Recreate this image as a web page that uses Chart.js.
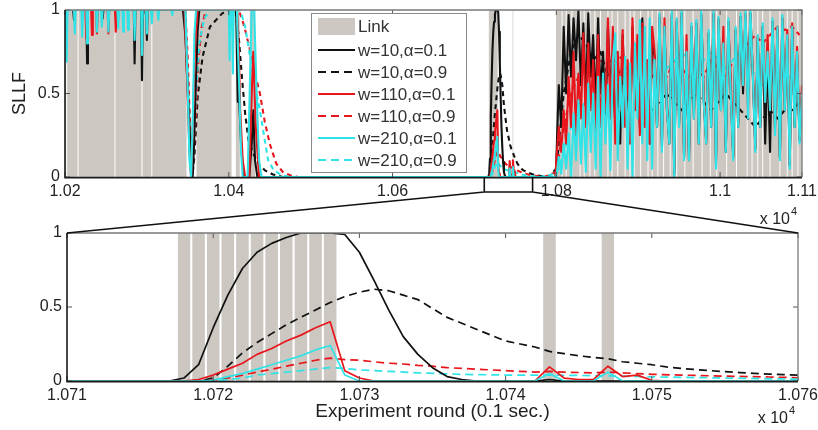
<!DOCTYPE html>
<html>
<head>
<meta charset="utf-8">
<script src="https://cdn.jsdelivr.net/npm/chart.js@4.4.0/dist/chart.umd.min.js"></script>
<style>
html, body { margin: 0; padding: 0; background: #fff; }
#wrap { position: relative; width: 818px; height: 430px; overflow: hidden; }
canvas { position: absolute; left: 0; }
#topChart { top: 0; }
#bottomChart { top: 200px; }
#overlay { top: 0; pointer-events: none; }
</style>
</head>
<body>
<div id="wrap">
  <canvas id="topChart" width="818" height="230"></canvas>
  <canvas id="bottomChart" width="818" height="230"></canvas>
  <canvas id="overlay" width="818" height="430"></canvas>
</div>
<script>
// ---- axis ticks ----
const topTickRounds = [10200, 10400, 10600, 10800, 11000, 11100];
const topTickLabels = ['1.02', '1.04', '1.06', '1.08', '1.1', '1.11'];
const bottomTickRounds = [10710, 10720, 10730, 10740, 10750, 10760];
const bottomTickLabels = ['1.071', '1.072', '1.073', '1.074', '1.075', '1.076'];
const yTicks = [0, 0.5, 1];
const yTickLabels = ['0', '0.5', '1'];
const zoomBoxRounds = [10712, 10771];

// ---- link on/off (rounds where the link is up) ----
const linkRuns = [[10200, 10201], [10203, 10215], [10217, 10260], [10262, 10293], [10295, 10305],
  [10307, 10348], [10361, 10403], [10409, 10413], [10426, 10432], [10718, 10728], [10743, 10743], [10747, 10747]];
const noisyStart = 10800;
const noisyEnd = 11100;
const noisyLinkGaps = [10807, 10812, 10819, 10829, 10834, 10841, 10847, 10854, 10863, 10868, 10875, 10884,
  10890, 10895, 10903, 10912, 10917, 10924, 10931, 10939, 10947, 10957, 10967, 10978, 10988, 10996,
  11008, 11020, 11033, 11039, 11046, 11052, 11061, 11073, 11082, 11088, 11095];

// ---- SLLF series, [round, value] up to 10800 ----
const w10a01 = [[10200,1],[10210,1],[10211,0.94],[10212,1],[10226,1],[10227,0.68],[10228,1],[10245,1],[10246,0.95],[10247,1],
  [10284,1],[10285,0.68],[10286,1],[10293,1],[10294,0.58],[10295,1],[10299,1],[10300,0.82],[10301,1],[10344,1],[10347,0.85],
  [10350,0.5],[10353,0.2],[10356,0],[10358,0.25],[10360,0.6],[10362,0.88],[10364,1],[10409,1],[10410,0.72],[10411,0.45],
  [10412,0.6],[10413,0.42],[10415,0.2],[10418,0],[10425,0],[10428,0.2],[10430,0.4],[10432,0.1],[10435,0],[10717,0],
  [10718,0.02],[10719,0.11],[10720,0.36],[10721,0.58],[10722,0.76],[10723,0.87],[10724,0.93],[10725,0.97],[10726,1],
  [10727,1],[10728,1],[10729,0.99],[10730,0.87],[10731,0.68],[10732,0.48],[10733,0.3],[10734,0.18],[10735,0.09],
  [10736,0.03],[10737,0.01],[10738,0],[10742,0],[10743,0.01],[10744,0],[10799,0]];
const w10a09 = [[10200,1],[10226,1],[10227,0.9],[10228,1],[10293,1],[10294,0.88],[10296,1],[10346,1],[10350,0.6],[10353,0.25],
  [10356,0.03],[10358,0.12],[10362,0.48],[10368,0.72],[10377,0.9],[10392,0.98],[10404,1],[10408,1],[10412,0.85],[10416,0.6],
  [10420,0.38],[10424,0.22],[10430,0.14],[10436,0.08],[10444,0.04],[10454,0.015],[10466,0],[10719,0],[10720,0.02],
  [10721,0.1],[10722,0.19],[10723,0.26],[10724,0.32],[10725,0.38],[10726,0.43],[10727,0.48],[10728,0.53],[10729,0.57],
  [10730,0.6],[10731,0.62],[10732,0.61],[10733,0.58],[10734,0.55],[10735,0.49],[10736,0.43],[10737,0.39],[10738,0.35],
  [10739,0.31],[10740,0.27],[10741,0.25],[10742,0.23],[10743,0.2],[10744,0.185],[10745,0.17],[10746,0.16],[10747,0.15],
  [10748,0.13],[10749,0.12],[10750,0.11],[10751,0.095],[10752,0.085],[10753,0.077],[10754,0.07],[10755,0.063],
  [10756,0.057],[10757,0.052],[10758,0.047],[10759,0.043],[10760,0.04],[10766,0.025],[10775,0.01],[10790,0]];
const w110a01 = [[10200,1],[10225,1],[10226,0.83],[10227,1],[10232,1],[10233,0.85],[10234,1],[10238,1],[10239,0.86],[10240,1],
  [10252,1],[10253,0.86],[10254,1],[10261,1],[10262,0.87],[10263,1],[10346,1],[10349,0.6],[10352,0.15],[10354,0],
  [10356,0.3],[10359,0.8],[10362,1],[10410,1],[10412,0.8],[10414,0.4],[10417,0.1],[10420,0],[10425,0],[10428,0.5],
  [10430,0.75],[10433,0.3],[10437,0],[10718,0],[10719,0.01],[10720,0.04],[10721,0.08],[10722,0.12],[10723,0.18],
  [10724,0.22],[10725,0.27],[10726,0.31],[10727,0.36],[10728,0.4],[10729,0.07],[10730,0.02],[10731,0],[10742,0],
  [10743,0.095],[10744,0.02],[10745,0.01],[10746,0.01],[10747,0.1],[10748,0.03],[10749,0.04],[10750,0.005],[10751,0],[10799,0]];
const w110a09 = [[10200,1],[10226,1],[10227,0.95],[10228,1],[10347,1],[10350,0.7],[10353,0.25],[10356,0.06],[10359,0.3],
  [10363,0.7],[10367,0.9],[10372,1],[10412,1],[10416,0.95],[10420,0.88],[10426,0.76],[10432,0.62],[10438,0.5],[10444,0.33],
  [10450,0.2],[10458,0.08],[10466,0.03],[10475,0.01],[10485,0],[10719,0],[10720,0.005],[10721,0.02],[10722,0.04],
  [10723,0.06],[10724,0.08],[10725,0.1],[10726,0.12],[10727,0.14],[10728,0.155],[10729,0.145],[10730,0.14],[10731,0.13],
  [10732,0.12],[10733,0.115],[10734,0.105],[10735,0.1],[10736,0.09],[10738,0.08],[10740,0.07],[10742,0.06],[10743,0.065],
  [10744,0.06],[10746,0.055],[10747,0.06],[10748,0.055],[10750,0.045],[10752,0.04],[10755,0.033],[10758,0.027],
  [10760,0.022],[10770,0.01],[10785,0]];
const w210a01 = [[10200,1],[10201,0.9],[10202,0.69],[10203,1],[10211,1],[10212,0.86],[10213,1],[10220,1],[10221,0.84],[10222,1],
  [10226,1],[10227,0.8],[10228,1],[10238,1],[10239,0.87],[10240,1],[10244,1],[10245,0.9],[10246,1],[10252,1],[10253,0.87],
  [10254,1],[10264,1],[10265,0.89],[10266,1],[10270,1],[10271,0.87],[10272,1],[10276,1],[10277,0.88],[10278,1],[10284,1],
  [10285,0.82],[10286,1],[10293,1],[10294,0.73],[10295,1],[10299,1],[10300,0.86],[10301,1],[10305,1],[10306,0.92],[10307,1],
  [10313,1],[10314,0.94],[10315,1],[10330,1],[10331,0.97],[10332,1],[10347,1],[10350,0.5],[10352,0.1],[10354,0],
  [10356,0.35],[10358,0.85],[10360,1],[10400,1],[10401,0.7],[10402,1],[10404,1],[10405,0.62],[10406,1],[10410,1],
  [10411,0.8],[10413,0.5],[10415,0.15],[10417,0],[10423,0],[10426,0.6],[10428,1],[10431,1],[10434,0.5],[10437,0.1],
  [10440,0],[10719,0],[10720,0.005],[10721,0.03],[10722,0.05],[10723,0.08],[10724,0.11],[10725,0.14],[10726,0.17],
  [10727,0.21],[10728,0.24],[10729,0.04],[10730,0],[10742,0],[10743,0.05],[10744,0],[10746,0],[10747,0.06],[10748,0],[10799,0]];
const w210a09 = [[10200,1],[10202,0.9],[10203,1],[10226,1],[10227,0.9],[10228,1],[10293,1],[10294,0.85],[10296,1],[10347,1],
  [10350,0.6],[10353,0.2],[10356,0.08],[10360,0.5],[10364,0.8],[10370,0.95],[10378,1],[10414,1],[10420,0.9],[10426,0.72],
  [10432,0.55],[10438,0.4],[10444,0.22],[10448,0.1],[10455,0.04],[10465,0.01],[10475,0],[10720,0],[10721,0.01],
  [10722,0.02],[10723,0.04],[10724,0.05],[10725,0.06],[10726,0.07],[10727,0.08],[10728,0.09],[10729,0.085],[10730,0.075],
  [10732,0.065],[10734,0.055],[10737,0.045],[10740,0.04],[10743,0.04],[10747,0.035],[10750,0.028],[10755,0.02],
  [10760,0.012],[10770,0.005],[10780,0]];

// ---- noisy stretch 10800-11100, solid lines every 3 rounds, dashed every 9 ----
const noiseW10a01 = [0.1,0.55,0.3,0.9,0.5,0.97,0.6,0.95,0.7,1, 0.55,0.92,0.45,0.98,0.6,0.85,0.4,0.95,0.5,0.75,
  0.3,0.9,0.55,0.7,0.3,0.6,0.2,0.85,0.4,0.55, 0.25,0.9,0.5,0.7,0.3,0.95,0.4,0.6,0.2,0.8,
  0.72,0.3,0.95,0.18,0.9,0.42,0.2,0.97,0.02,0.93, 0.32,0.98,0.12,0.72,0.1,0.9,0.35,0.92,0.2,0.97,
  0.45,0.22,0.86,0.3,0.97,0.08,0.94,0.4,0.78,0.15, 0.93,0.5,0.12,0.88,0.3,0.96,0.5,0.97,0.48,0.98,
  0.6,0.17,0.83,0.3,0.9,0.2,0.72,0.15,0.93,0.3, 0.88,0.12,0.95,0.4,0.83,0.07,0.88,0.3,0.73,0.22, 0.48];
const noiseW110a01 = [0.1,0.3,0.15,0.4,0.2,0.6,0.3,0.75,0.25,0.62, 0.35,0.86,0.3,0.8,0.4,0.7,0.2,0.85,0.3,0.6,
  0.4,0.95,0.35,0.9,0.2,0.75,0.4,0.88,0.3,0.7, 0.2,0.95,0.4,0.85,0.25,0.92,0.3,0.7,0.2,0.9,
  0.75,0.3,0.97,0.2,0.95,0.4,0.25,0.98,0.05,0.94, 0.35,0.97,0.12,0.85,0.15,0.9,0.5,0.92,0.25,0.98,
  0.5,0.2,0.86,0.35,0.98,0.1,0.95,0.42,0.9,0.18, 0.93,0.6,0.12,0.88,0.32,0.96,0.55,0.98,0.38,0.98,
  0.62,0.18,0.84,0.3,0.9,0.45,0.85,0.4,0.93,0.27, 0.9,0.12,0.95,0.45,0.88,0.08,0.92,0.35,0.78,0.22, 0.55];
const noiseW210a01 = [0,0.12,0.02,0.2,0.05,0.26,0,0.38,0.1,0.46, 0.08,0.42,0.03,0.56,0.15,0.5,0.05,0.6,0,0.62,
  0.2,0.55,0.04,0.7,0.86,0.1,0.6,0.3,0.72,0.05, 0.68,0,0.8,0.35,0.94,0.2,0.9,0.1,0.95,0.05,
  0.7,0.3,0.98,0.15,0.9,0.4,0.2,1,0,0.95, 0.3,1,0.1,0.75,0.1,0.92,0.35,0.94,0.2,1,
  0.45,0.2,0.88,0.3,1,0.05,0.96,0.4,0.8,0.15, 0.95,0.5,0.1,0.9,0.3,0.98,0.55,1,0.35,1,
  0.6,0.15,0.85,0.3,0.92,0.45,0.75,0.4,0.95,0.25, 0.9,0.1,0.97,0.4,0.85,0.05,0.9,0.3,0.75,0.2, 0.5];
const noiseW10a09 = [0.05,0.5,0.75,0.85,0.8,0.7,0.75,0.6,0.7,0.55, 0.65,0.6,0.45,0.4,0.45,0.5,0.45,0.4,0.45,0.5,
  0.45,0.4,0.45,0.5,0.45,0.4,0.35,0.3,0.35,0.4, 0.35,0.4,0.4,0.45];
const noiseW110a09 = [0.03,0.3,0.5,0.6,0.65,0.6,0.7,0.65,0.75,0.7, 0.6,0.65,0.7,0.6,0.65,0.6,0.7,0.65,0.6,0.65,
  0.6,0.7,0.65,0.6,0.7,0.75,0.8,0.85,0.8,0.85, 0.9,0.88,0.9,0.85];
const noiseW210a09 = [0.02,0.15,0.3,0.4,0.45,0.5,0.55,0.6,0.6,0.65, 0.6,0.7,0.65,0.7,0.7,0.65,0.7,0.75,0.7,0.65,
  0.7,0.75,0.7,0.65,0.7,0.75,0.7,0.6,0.55,0.6, 0.65,0.6,0.6,0.65];

const seriesLabels = ['w=10,α=0.1', 'w=10,α=0.9', 'w=110,α=0.1', 'w=110,α=0.9', 'w=210,α=0.1', 'w=210,α=0.9'];

// ---- styles ----
const FONT = '"Liberation Sans", Arial, Helvetica, sans-serif';
const linkColor = '#ccc7c1';
const black = '#111111';
const red = '#e8161c';
const cyan = '#2fe3e6';
const textColor = '#222';

const seriesDefs = [
  {early: w10a01, noise: noiseW10a01, step: 3, color: black, dashed: false, order: 3},
  {early: w10a09, noise: noiseW10a09, step: 9, color: black, dashed: true, order: 6},
  {early: w110a01, noise: noiseW110a01, step: 3, color: red, dashed: false, order: 2},
  {early: w110a09, noise: noiseW110a09, step: 9, color: red, dashed: true, order: 5},
  {early: w210a01, noise: noiseW210a01, step: 3, color: cyan, dashed: false, order: 1},
  {early: w210a09, noise: noiseW210a09, step: 9, color: cyan, dashed: true, order: 4}
];

function toPoints(early, noise, step) {
  let pts = early.map(p => ({x: p[0], y: p[1]}));
  noise.forEach((v, i) => pts.push({x: noisyStart + i * step, y: v}));
  return pts;
}

function allLinkRuns() {
  let runs = linkRuns.slice();
  let start = noisyStart;
  noisyLinkGaps.forEach(g => {
    runs.push([start, g - 1]);
    start = g + 1;
  });
  runs.push([start, noisyEnd]);
  return runs;
}

// rectangles for the link shading, merged runs or one block per round
function linkShape(half, perRound, lo, hi) {
  let pts = [];
  allLinkRuns().forEach(([s, e]) => {
    if (e < lo - 1 || s > hi + 1) return;
    if (perRound) {
      for (let r = s; r <= e; r++) {
        pts.push({x: r - half, y: 0}, {x: r - half, y: 1}, {x: r + half, y: 1}, {x: r + half, y: 0});
      }
    } else {
      pts.push({x: s - half, y: 0}, {x: s - half, y: 1}, {x: e + half, y: 1}, {x: e + half, y: 0});
    }
  });
  return pts;
}

function makeDatasets(lineWidth, dash, perRound, lo, hi) {
  let sets = [{
    label: 'Link',
    data: linkShape(perRound ? 0.43 : 0.4, perRound, lo, hi),
    borderColor: 'rgba(0,0,0,0)',
    borderWidth: 0,
    backgroundColor: linkColor,
    fill: 'origin',
    pointRadius: 0,
    order: 7
  }];
  seriesDefs.forEach((d, i) => {
    sets.push({
      label: seriesLabels[i],
      data: toPoints(d.early, d.noise, d.step),
      borderColor: d.color,
      borderWidth: lineWidth,
      borderDash: d.dashed ? dash : [],
      borderJoinStyle: 'round',
      fill: false,
      pointRadius: 0,
      tension: 0,
      order: d.order
    });
  });
  return sets;
}

// MATLAB-like box with inward ticks and the x 10^4 multiplier
const axesBox = {
  id: 'axesBox',
  afterDatasetsDraw(chart, args, opts) {
    const {ctx, chartArea: a, scales} = chart;
    ctx.save();
    ctx.strokeStyle = '#555';
    ctx.lineWidth = 1;
    ctx.beginPath();
    scales.x.ticks.forEach(t => {
      const x = scales.x.getPixelForValue(t.value);
      ctx.moveTo(x, a.bottom); ctx.lineTo(x, a.bottom - opts.tick);
      ctx.moveTo(x, a.top); ctx.lineTo(x, a.top + opts.tick);
    });
    scales.y.ticks.forEach(t => {
      const y = scales.y.getPixelForValue(t.value);
      ctx.moveTo(a.left, y); ctx.lineTo(a.left + opts.tick, y);
      ctx.moveTo(a.right, y); ctx.lineTo(a.right - opts.tick, y);
    });
    ctx.stroke();
    ctx.strokeStyle = '#7a7a7a';
    ctx.lineWidth = 1.3;
    ctx.beginPath();
    ctx.moveTo(a.left, a.top); ctx.lineTo(a.right, a.top); ctx.lineTo(a.right, a.bottom);
    ctx.stroke();
    ctx.strokeStyle = '#1a1a1a';
    ctx.lineWidth = 1.6;
    ctx.beginPath();
    ctx.moveTo(a.left, a.top); ctx.lineTo(a.left, a.bottom + 0.6); ctx.lineTo(a.right, a.bottom + 0.6);
    ctx.stroke();
    // x 10^4
    ctx.fillStyle = textColor;
    ctx.textBaseline = 'alphabetic';
    ctx.textAlign = 'right';
    ctx.font = '16px ' + FONT;
    const ex = a.right - opts.expRight;
    const ey = a.bottom + opts.expDown;
    ctx.fillText('x 10', ex, ey);
    ctx.textAlign = 'left';
    ctx.font = '11px ' + FONT;
    ctx.fillText('4', ex + 1, ey - 9);
    ctx.restore();
  }
};

const legendBox = {
  id: 'legendBox',
  afterDraw(chart) {
    const {ctx, chartArea: a} = chart;
    const left = a.left + 246, top = a.top + 3, w = 155, h = 159;
    ctx.save();
    ctx.fillStyle = '#fff';
    ctx.fillRect(left, top, w, h);
    ctx.strokeStyle = '#8a8a8a';
    ctx.lineWidth = 1;
    ctx.strokeRect(left + 0.5, top + 0.5, w, h);
    ctx.font = '17px ' + FONT;
    ctx.textBaseline = 'middle';
    ctx.fillStyle = linkColor;
    ctx.fillRect(left + 7, top + 5, 37, 17);
    ctx.fillStyle = '#333';
    ctx.fillText('Link', left + 47, top + 14);
    seriesDefs.forEach((d, i) => {
      const y = top + 37 + i * 22;
      ctx.strokeStyle = d.color;
      ctx.lineWidth = 2.2;
      ctx.setLineDash(d.dashed ? [8, 5] : []);
      ctx.beginPath();
      ctx.moveTo(left + 7, y);
      ctx.lineTo(left + 44, y);
      ctx.stroke();
      ctx.setLineDash([]);
      ctx.fillStyle = '#333';
      ctx.fillText(seriesLabels[i], left + 47, y + 1);
    });
    ctx.restore();
  }
};

function xScale(min, max, tickRounds, tickLabels, height, title) {
  return {
    type: 'linear',
    min: min,
    max: max,
    grid: {display: false, drawTicks: false},
    border: {display: false},
    title: title,
    ticks: {
      autoSkip: false, maxRotation: 0, minRotation: 0, padding: 5,
      color: textColor, font: {family: FONT, size: 16},
      callback: v => tickLabels[tickRounds.indexOf(v)]
    },
    afterBuildTicks: s => { s.ticks = tickRounds.map(v => ({value: v})); },
    afterFit: s => { s.height = height; s.paddingLeft = 0; s.paddingRight = 0; s.paddingTop = 0; s.paddingBottom = 0; }
  };
}

function yScale(width, title) {
  return {
    min: 0,
    max: 1,
    grid: {display: false, drawTicks: false},
    border: {display: false},
    title: title,
    ticks: {
      autoSkip: false, padding: 5,
      color: textColor, font: {family: FONT, size: 16},
      callback: v => yTickLabels[yTicks.indexOf(v)]
    },
    afterBuildTicks: s => { s.ticks = yTicks.map(v => ({value: v})); },
    afterFit: s => { s.width = width; s.paddingLeft = 0; s.paddingRight = 0; s.paddingTop = 0; s.paddingBottom = 0; }
  };
}

const topChart = new Chart(document.getElementById('topChart'), {
  type: 'line',
  data: {datasets: makeDatasets(2.1, [5, 4], false, topTickRounds[0], noisyEnd)},
  plugins: [axesBox, legendBox],
  options: {
    responsive: false,
    animation: false,
    devicePixelRatio: 1,
    normalized: true,
    layout: {padding: {left: 0, right: 16, top: 10, bottom: 0}},
    plugins: {
      legend: {display: false},
      tooltip: {enabled: false},
      axesBox: {tick: 5, expRight: 12, expDown: 47}
    },
    scales: {
      x: xScale(10200, 11100, topTickRounds, topTickLabels, 53, {display: false}),
      y: yScale(65, {display: true, text: 'SLLF', color: textColor,
        font: {family: FONT, size: 18}, padding: {top: 9, bottom: 0}})
    }
  }
});

const bottomChart = new Chart(document.getElementById('bottomChart'), {
  type: 'line',
  data: {datasets: makeDatasets(1.7, [8, 5], true, bottomTickRounds[0], bottomTickRounds[5])},
  plugins: [axesBox],
  options: {
    responsive: false,
    animation: false,
    devicePixelRatio: 1,
    layout: {padding: {left: 0, right: 20, top: 33, bottom: 0}},
    plugins: {
      legend: {display: false},
      tooltip: {enabled: false},
      axesBox: {tick: 5, expRight: 10, expDown: 42}
    },
    scales: {
      x: xScale(10710, 10760, bottomTickRounds, bottomTickLabels, 49, {display: true,
        text: 'Experiment round (0.1 sec.)', color: textColor,
        font: {family: FONT, size: 19}, padding: {top: 0, bottom: 7}}),
      y: yScale(67, {display: false})
    }
  }
});

// zoom bracket under the top axis and the two lines to the lower plot
function drawZoomLinks() {
  const ctx = document.getElementById('overlay').getContext('2d');
  const tx = topChart.scales.x;
  const x1 = tx.getPixelForValue(zoomBoxRounds[0]);
  const x2 = tx.getPixelForValue(zoomBoxRounds[1]);
  const yTop = topChart.chartArea.bottom;
  const yBot = yTop + 15;
  const offsetY = document.getElementById('bottomChart').offsetTop;
  const b = bottomChart.chartArea;
  ctx.strokeStyle = '#111';
  ctx.lineWidth = 1.6;
  ctx.beginPath();
  ctx.moveTo(x1, yTop); ctx.lineTo(x1, yBot); ctx.lineTo(x2, yBot); ctx.lineTo(x2, yTop);
  ctx.moveTo(x1, yBot); ctx.lineTo(b.left, b.top + offsetY);
  ctx.moveTo(x2, yBot); ctx.lineTo(b.right, b.top + offsetY);
  ctx.stroke();
}
drawZoomLinks();
</script>
</body>
</html>
